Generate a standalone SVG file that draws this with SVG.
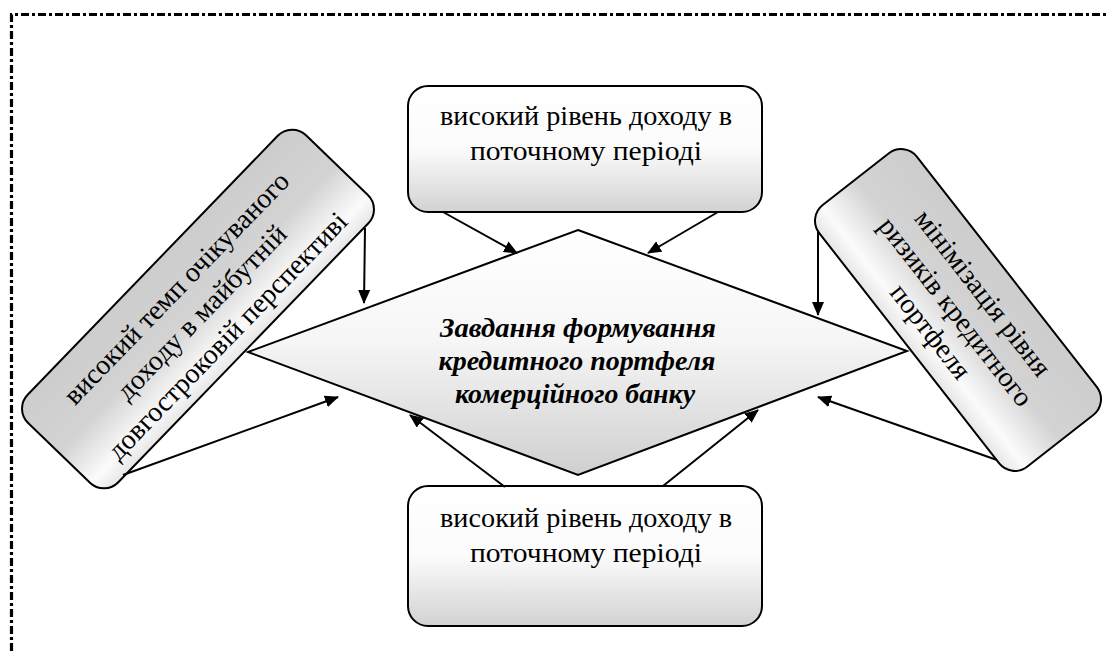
<svg xmlns="http://www.w3.org/2000/svg" width="1109" height="651" viewBox="0 0 1109 651">
<style>
.box{stroke:#000;stroke-width:2}
.t{font-family:"Liberation Serif","Times New Roman",serif;font-size:28px;fill:#000;text-anchor:middle}
.tb{font-family:"Liberation Serif","Times New Roman",serif;font-size:26.5px;font-weight:bold;font-style:italic;fill:#000;text-anchor:middle}
.c{stroke:#000;stroke-width:2;fill:none;marker-end:url(#ah)}
.frame{stroke:#000;stroke-width:3.2;fill:none;stroke-dasharray:8 3 3 3}
</style>
<defs>
<marker id="ah" markerUnits="userSpaceOnUse" markerWidth="14" markerHeight="12" refX="13" refY="6" orient="auto">
<path d="M0,0 L14,6 L0,12 z" fill="#000"/>
</marker>
<linearGradient id="gv" x1="0" y1="0" x2="0" y2="1">
<stop offset="0" stop-color="#ffffff"/>
<stop offset="0.5" stop-color="#fbfbfb"/>
<stop offset="1" stop-color="#d2d2d2"/>
</linearGradient>
<linearGradient id="gd" x1="0" y1="0" x2="0" y2="1">
<stop offset="0" stop-color="#ffffff"/>
<stop offset="0.45" stop-color="#f6f6f6"/>
<stop offset="1" stop-color="#cfcfcf"/>
</linearGradient>
<linearGradient id="gr" x1="0" y1="0" x2="0" y2="1">
<stop offset="0" stop-color="#cdcdcd"/>
<stop offset="0.5" stop-color="#d3d3d3"/>
<stop offset="0.85" stop-color="#fbfbfb"/>
<stop offset="1" stop-color="#e6e6e6"/>
</linearGradient>
</defs>
<rect width="1109" height="651" fill="#fff"/>
<path class="frame" d="M11.5,651 L11.5,14.5 L1109,14.5"/>

<g id="node-center">
<polygon points="578,230 907,351 578,475 248,352" fill="url(#gd)" stroke="#000" stroke-width="2"/>
<text class="tb" x="578" y="337" textLength="276" lengthAdjust="spacingAndGlyphs">Завдання формування</text>
<text class="tb" x="577" y="370" textLength="277" lengthAdjust="spacingAndGlyphs">кредитного портфеля</text>
<text class="tb" x="575" y="403" textLength="240" lengthAdjust="spacingAndGlyphs">комерційного банку</text>
</g>

<g id="node-top">
<rect class="box" x="408" y="86" width="354" height="126" rx="20" fill="url(#gv)"/>
<text class="t" x="586" y="125" textLength="292" lengthAdjust="spacingAndGlyphs">високий рівень доходу в</text>
<text class="t" x="586" y="160" textLength="232" lengthAdjust="spacingAndGlyphs">поточному періоді</text>
</g>

<g id="node-bottom">
<rect class="box" x="408" y="486" width="354" height="140" rx="20" fill="url(#gv)"/>
<text class="t" x="586" y="527" textLength="292" lengthAdjust="spacingAndGlyphs">високий рівень доходу в</text>
<text class="t" x="586" y="562" textLength="232" lengthAdjust="spacingAndGlyphs">поточному періоді</text>
</g>

<g id="node-left" transform="translate(198,309) rotate(-46)">
<rect class="box" x="-200" y="-63" width="400" height="126" rx="20" fill="url(#gr)"/>
<text class="t" x="0" y="-21">високий темп очікуваного</text>
<text class="t" x="0" y="14">доходу в майбутній</text>
<text class="t" x="1" y="49">довгостроковій перспективі</text>
</g>

<g id="node-right" transform="translate(958,310) rotate(52)">
<rect class="box" x="-166" y="-62" width="332" height="124" rx="20" fill="url(#gr)"/>
<text class="t" x="2" y="-21">мінімізація рівня</text>
<text class="t" x="0" y="12">ризиків кредитного</text>
<text class="t" x="0" y="44">портфеля</text>
</g>

<g id="connectors">
<line class="c" x1="443" y1="212" x2="517" y2="253"/>
<line class="c" x1="718" y1="212" x2="648" y2="253"/>
<line class="c" x1="505" y1="487" x2="410" y2="415"/>
<line class="c" x1="663" y1="486" x2="758" y2="410"/>
<line class="c" x1="365" y1="228" x2="364" y2="303"/>
<line class="c" x1="123" y1="475" x2="338" y2="397"/>
<line class="c" x1="818" y1="230" x2="818" y2="315"/>
<line class="c" x1="997" y1="460" x2="818" y2="397"/>
</g>
</svg>
